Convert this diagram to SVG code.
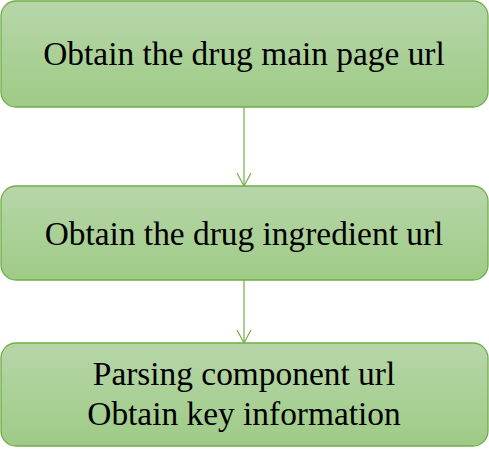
<svg xmlns="http://www.w3.org/2000/svg" width="489" height="454" viewBox="0 0 489 454">
  <style>
    .box { fill: url(#boxFill); stroke: #70ad47; stroke-width: 1.3; }
    .label { font-family: "Liberation Serif", "Times New Roman", serif; font-size: 33.4px; fill: #000; text-anchor: middle; }
    .link { stroke: #70ad47; stroke-width: 1.2; fill: none; }
  </style>
  <defs>
    <linearGradient id="boxFill" x1="0" y1="0" x2="0" y2="1">
      <stop offset="0" stop-color="#b7d6a9"/>
      <stop offset="1" stop-color="#9ecb86"/>
    </linearGradient>
    <marker id="arrow" viewBox="0 0 16 16" refX="14" refY="8" markerWidth="16" markerHeight="16" markerUnits="userSpaceOnUse" orient="auto">
      <path d="M1,1 L14,8 L1,15" fill="none" stroke="#70ad47" stroke-width="1.2"/>
    </marker>
  </defs>
  <g id="connectors">
    <line class="link" x1="244" y1="107" x2="244" y2="186" marker-end="url(#arrow)"/>
    <line class="link" x1="244" y1="280" x2="244" y2="343" marker-end="url(#arrow)"/>
  </g>
  <g id="node1">
    <rect class="box" x="1" y="1" width="487" height="106" rx="15"/>
    <text class="label" x="244" y="65">Obtain the drug main page url</text>
  </g>
  <g id="node2">
    <rect class="box" x="1" y="186" width="487" height="94" rx="15"/>
    <text class="label" x="244" y="245">Obtain the drug ingredient url</text>
  </g>
  <g id="node3">
    <rect class="box" x="1" y="343" width="487" height="103" rx="15"/>
    <text class="label" x="244" y="385">Parsing component url</text>
    <text class="label" x="244" y="425">Obtain key information</text>
  </g>
</svg>
